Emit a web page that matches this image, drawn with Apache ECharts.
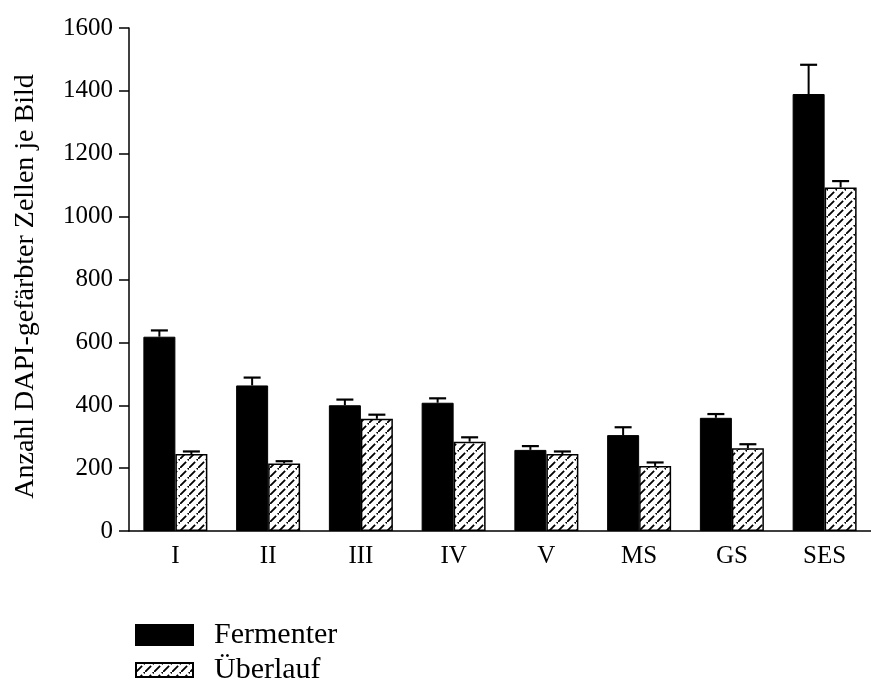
<!DOCTYPE html>
<html>
<head>
<meta charset="utf-8">
<script src="https://cdn.jsdelivr.net/npm/echarts@6/dist/echarts.min.js"></script>
<style>
  html, body { margin: 0; padding: 0; background: #fff; }
  #chart { width: 871px; height: 689px; }
</style>
</head>
<body>
<div id="chart"></div>
<script>
// Sampling sites
const categories = ['I', 'II', 'III', 'IV', 'V', 'MS', 'GS', 'SES'];
// Mean counts per image and their (upper) error
const fermenter = [618, 463, 400, 408, 258, 305, 360, 1390];
const fermenterErr = [20, 25, 18, 14, 12, 25, 12, 93];
const ueberlauf = [245, 215, 357, 284, 245, 207, 263, 1093];
const ueberlaufErr = [8, 7, 13, 14, 8, 11, 13, 20];
// Y axis scale
const yMin = 0, yMax = 1600, yStep = 200;

const FONT = '"Liberation Serif", "Times New Roman", serif';
const BAR_W = 32;

// Diagonal dashed hatch used for the overflow bars
function hatchPattern() {
  const s = 9;
  const c = document.createElement('canvas');
  c.width = s; c.height = s;
  const g = c.getContext('2d');
  g.fillStyle = '#fff';
  g.fillRect(0, 0, s, s);
  g.strokeStyle = '#000';
  g.lineWidth = 1.8;
  g.beginPath();
  g.moveTo(-1, s + 1);
  g.lineTo(s * 0.68, s * 0.32);
  g.moveTo(s * 0.86, s * 0.14);
  g.lineTo(s + 1, -1);
  g.stroke();
  return c;
}

// Upward error whisker with a cap, shifted to sit on its bar
function errorSeries(name, values, errs, offset) {
  return {
    name: name,
    type: 'custom',
    z: 5,
    silent: true,
    renderItem: function (params, api) {
      const i = api.value(0);
      const v = api.value(1);
      const e = api.value(2);
      const p0 = api.coord([i, v]);
      const p1 = api.coord([i, v + e]);
      const x = p0[0] + offset;
      const half = 8.5;
      return {
        type: 'group',
        children: [
          { type: 'line', shape: { x1: x, y1: p0[1], x2: x, y2: p1[1] },
            style: { stroke: '#000', lineWidth: 2 } },
          { type: 'line', shape: { x1: x - half, y1: p1[1], x2: x + half, y2: p1[1] },
            style: { stroke: '#000', lineWidth: 2.2 } }
        ]
      };
    },
    data: categories.map((c, i) => [i, values[i], errs[i]])
  };
}

const legendText = { fontFamily: FONT, fontSize: 30, lineHeight: 32, color: '#000', padding: [0, 0, 0, 16] };

const chart = echarts.init(document.getElementById('chart'), null, { renderer: 'canvas' });
chart.setOption({
  animation: false,
  backgroundColor: '#fff',
  grid: { left: 129, top: 28, bottom: 158, width: 752, containLabel: false },
  legend: [
    {
      left: 130, top: 614,
      itemWidth: 57, itemHeight: 20,
      icon: 'rect',
      data: ['Fermenter'],
      textStyle: legendText
    },
    {
      left: 130, top: 649,
      itemWidth: 57, itemHeight: 14,
      icon: 'rect',
      data: ['Überlauf'],
      textStyle: legendText
    }
  ],
  xAxis: {
    type: 'category',
    data: categories,
    axisLine: { lineStyle: { color: '#000', width: 1.5 } },
    axisTick: { show: false },
    axisLabel: { color: '#000', fontFamily: FONT, fontSize: 25, margin: 13 }
  },
  yAxis: {
    type: 'value',
    min: yMin, max: yMax, interval: yStep,
    name: 'Anzahl DAPI-gefärbter Zellen je Bild',
    nameLocation: 'middle',
    nameGap: 89,
    nameTextStyle: { color: '#000', fontFamily: FONT, fontSize: 28, padding: [0, 14, 0, 0] },
    axisLine: { show: true, lineStyle: { color: '#000', width: 1.5 } },
    axisTick: { show: true, length: 10, lineStyle: { color: '#000', width: 1.5 } },
    splitLine: { show: false },
    axisLabel: {
      color: '#000', fontFamily: FONT, fontSize: 25, margin: 16,
      formatter: function (v) { return String(v); }
    }
  },
  series: [
    {
      name: 'Fermenter', type: 'bar', data: fermenter,
      barWidth: BAR_W, barGap: '0%',
      itemStyle: { color: '#000', borderColor: '#000', borderWidth: 1 }
    },
    {
      name: 'Überlauf', type: 'bar', data: ueberlauf,
      barWidth: BAR_W, barGap: '0%',
      itemStyle: { color: { image: hatchPattern(), repeat: 'repeat' }, borderColor: '#000', borderWidth: 1.5 }
    },
    errorSeries('Fermenter Fehler', fermenter, fermenterErr, -BAR_W / 2),
    errorSeries('Überlauf Fehler', ueberlauf, ueberlaufErr, BAR_W / 2)
  ]
});
</script>
</body>
</html>
